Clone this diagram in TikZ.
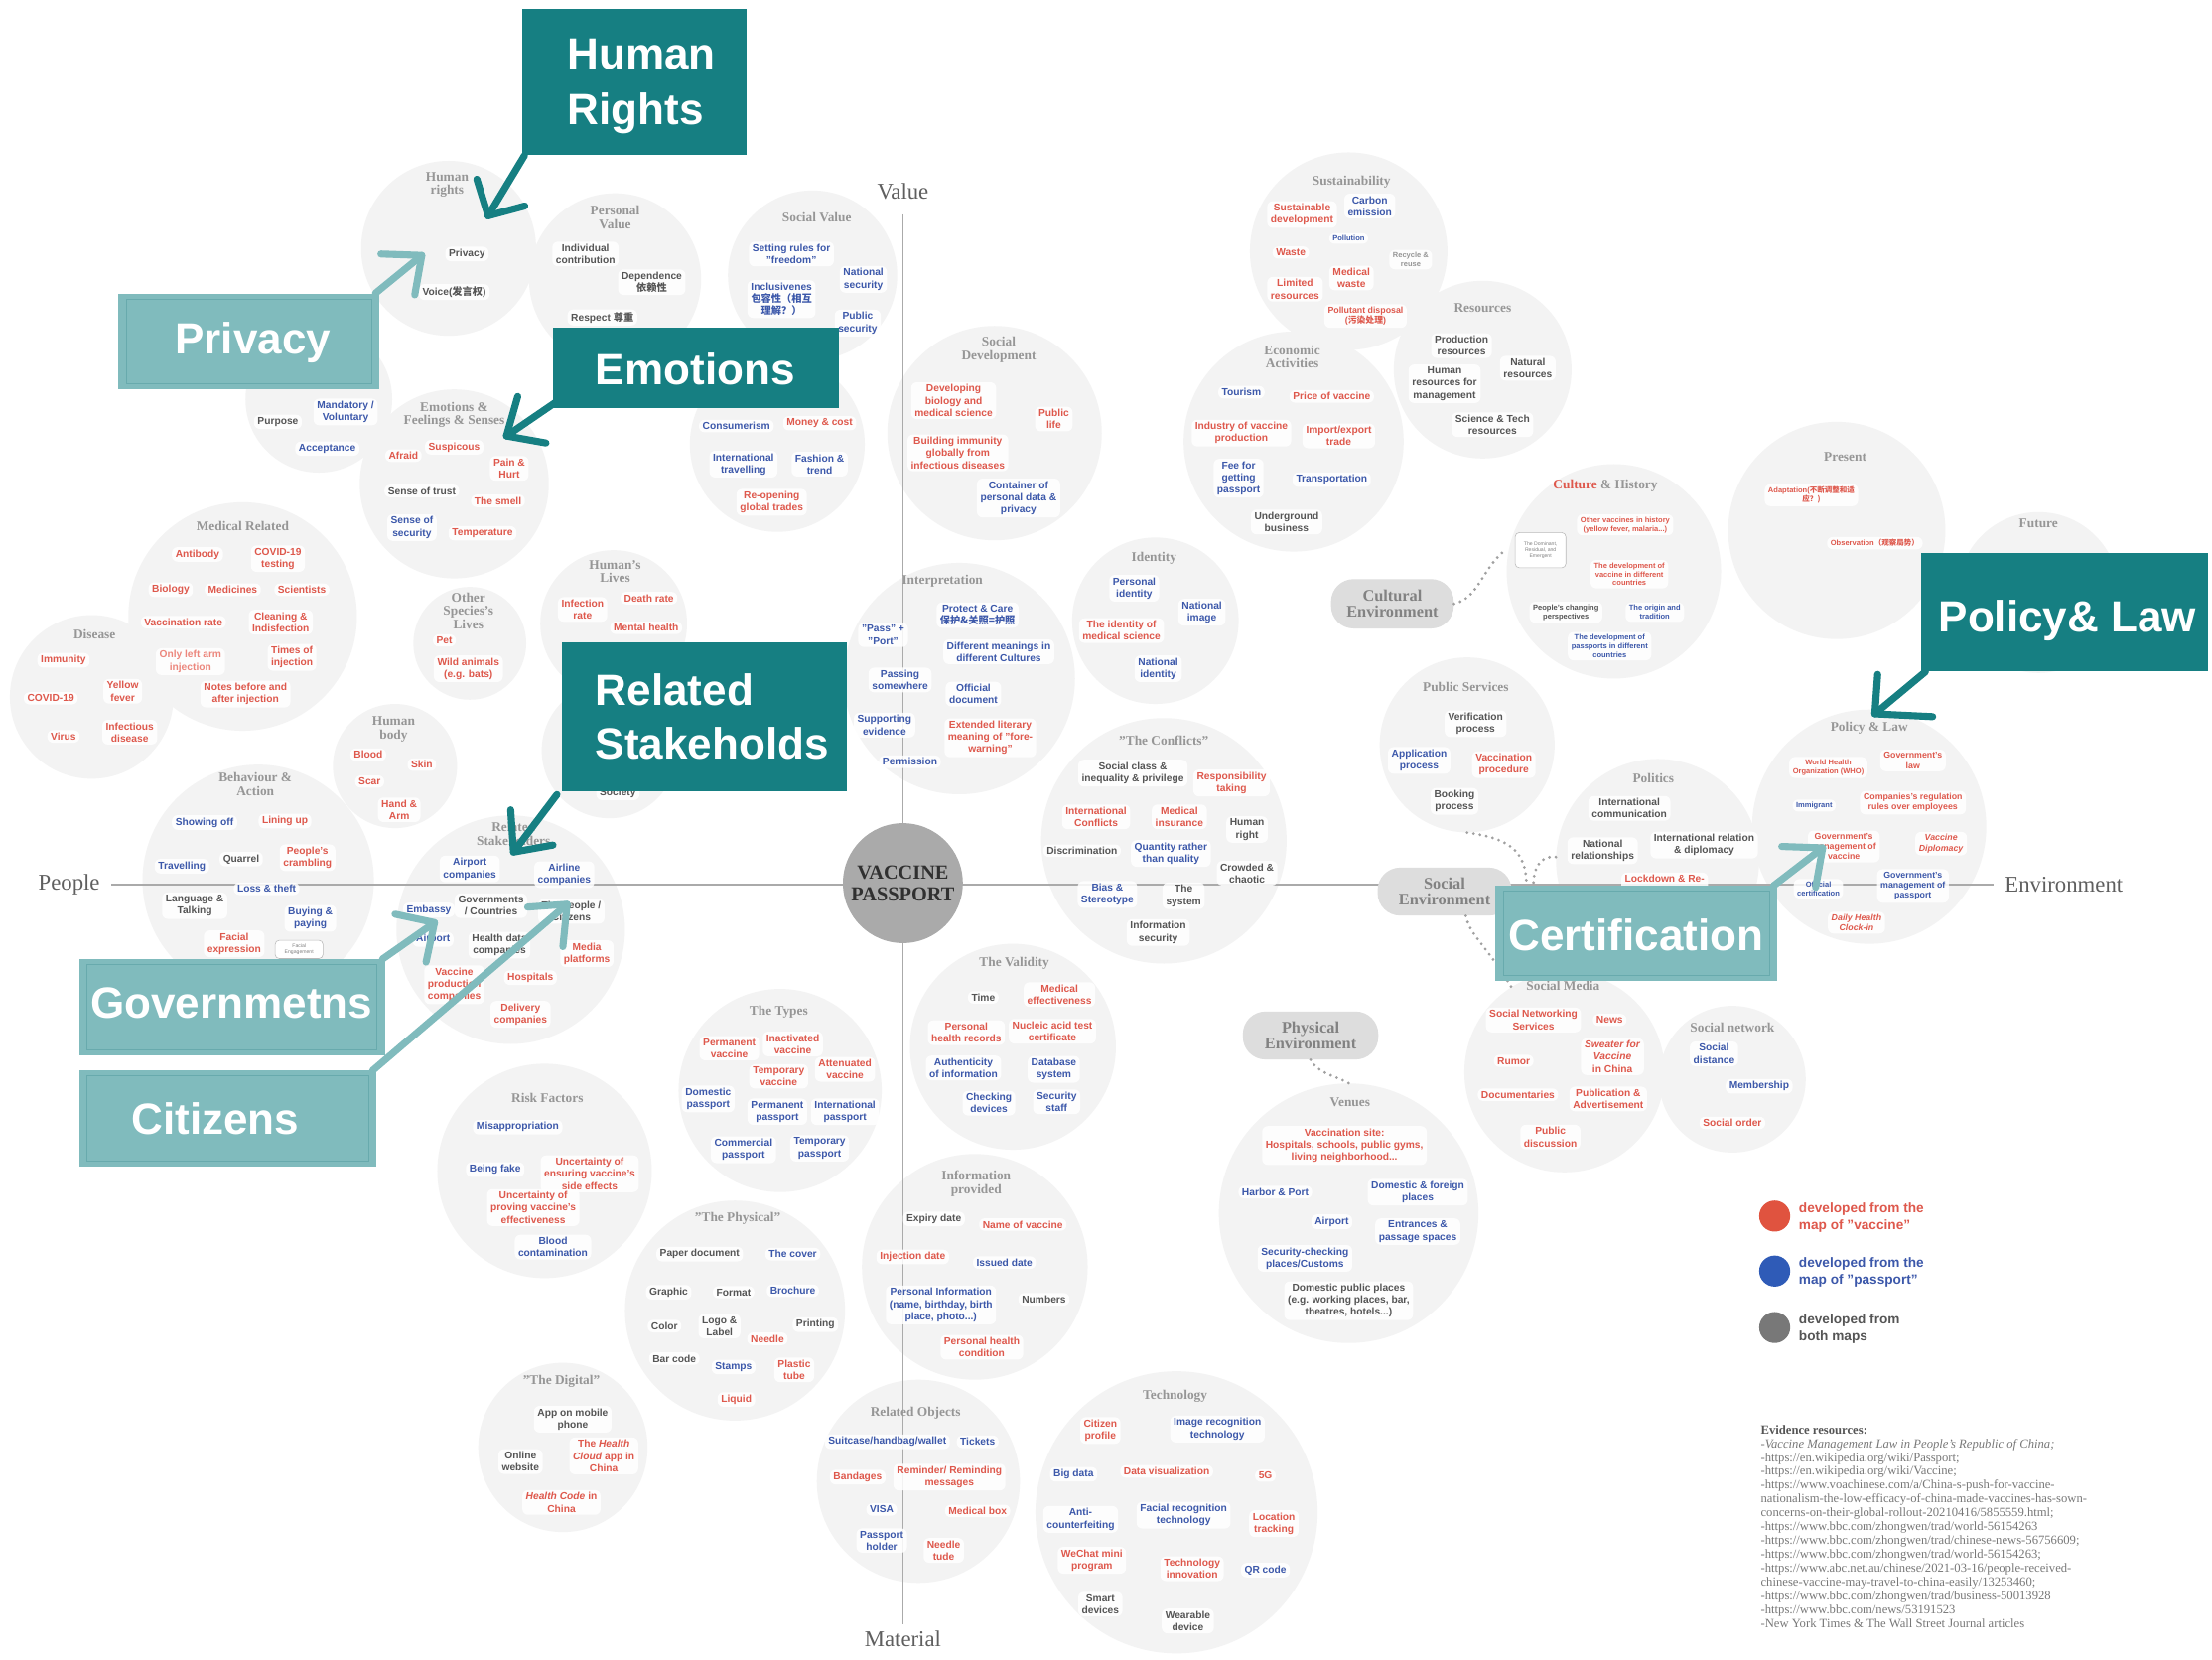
\documentclass[tikz,border=0pt]{standalone}
\usepackage{fontspec}
\setmainfont{Liberation Serif}
\setsansfont{Liberation Sans}
\newfontfamily\cjk{Noto Sans CJK SC}
\usetikzlibrary{calc}
\definecolor{cr}{RGB}{222,88,76}
\definecolor{crl}{RGB}{236,135,125}
\definecolor{cb}{RGB}{60,88,170}
\definecolor{cg}{RGB}{85,85,85}
\definecolor{cgl}{RGB}{150,150,150}
\definecolor{circ}{RGB}{243,243,243}
\definecolor{ttlc}{RGB}{150,150,150}
\definecolor{pillc}{RGB}{221,221,221}
\definecolor{pilltx}{RGB}{130,130,130}
\definecolor{dotc}{RGB}{160,160,160}
\definecolor{axc}{RGB}{170,170,170}
\definecolor{axt}{RGB}{95,95,95}
\definecolor{tealD}{RGB}{22,127,130}
\definecolor{tealL}{RGB}{128,187,189}
\definecolor{tealB}{RGB}{104,170,173}
\definecolor{cenf}{RGB}{170,170,170}
\definecolor{lgr}{RGB}{224,83,63}
\definecolor{lgb}{RGB}{47,91,183}
\definecolor{lgg}{RGB}{120,120,120}
\definecolor{evt}{RGB}{120,120,120}
\newcommand\ItF{\sffamily\bfseries\fontsize{7.2}{8.6}\selectfont}
\newcommand\SmF{\sffamily\bfseries\fontsize{6.2}{7.3}\selectfont}
\newcommand\XsF{\sffamily\bfseries\fontsize{5.3}{6.3}\selectfont}
\newcommand\TtF{\rmfamily\bfseries\fontsize{9.4}{9.6}\selectfont}
\newcommand\PillF{\rmfamily\bfseries\fontsize{11.5}{11.6}\selectfont}
\newcommand\AxF{\rmfamily\fontsize{16}{18}\selectfont}
\newcommand\CoF{\sffamily\bfseries\fontsize{31}{38}\selectfont}
\newcommand\LgF{\sffamily\bfseries\fontsize{9.6}{12.3}\selectfont}
\newcounter{itc}
\newcounter{ttc}
\newcommand\Itm[5][]{\stepcounter{itc}\edef\itnm{i\arabic{itc}}\node[itm,text=#4,#1] (\itnm) at (#2,#3) {#5};}
\newcommand\Ttl[3]{\stepcounter{ttc}\edef\tnm{t\arabic{ttc}}\node[ttl] (\tnm) at (#1,#2) {#3};}
\newcommand\Bub[4]{\node[bub,minimum size={2*#4}] (#1) at (#2,#3) {};}
\begin{document}
\begin{tikzpicture}[x=1pt,y=-1pt,
 bub/.style={circle,fill=circ,draw=none,inner sep=0pt},
 itm/.style={fill=white,fill opacity=0.85,text opacity=1,rounded corners=4pt,inner xsep=2.5pt,inner ysep=1.8pt,align=center,font=\ItF},
 sm/.style={font=\SmF},
 xs/.style={font=\XsF},
 ttl/.style={align=center,text=ttlc,font=\TtF,inner sep=1pt},
 pill/.style={fill=pillc,rounded corners=16pt,align=center,text=pilltx,font=\PillF,inner sep=0pt},
 dots/.style={draw=dotc,line width=2.2pt,line cap=round,dash pattern=on 0pt off 4.6pt},
 axis/.style={draw=axc,line width=0.8pt},
 axl/.style={text=axt,font=\AxF,inner sep=0pt},
 dbox/.style={fill=tealD,draw=none,inner sep=0pt},
 lbox/.style={fill=tealL,draw=none,inner sep=0pt},
 innerb/.style={draw=tealB,line width=0.6pt},
 ctx/.style={text=white,font=\CoF,inner sep=0pt,anchor=base west},
 darr/.style={draw=tealD,line width=5pt,line cap=round,line join=round},
 larr/.style={draw=tealL,line width=5pt,line cap=round,line join=round},
 tinyb/.style={draw=gray!55,fill=white,rounded corners=3pt,align=center,text=gray,inner sep=1pt},
]
\useasboundingbox (0,0) rectangle (1568,1176);
\fill[white] (0,0) rectangle (1568,1176);

% ---------- circles ----------
\Bub{hr}{318}{176}{62}
\Bub{pv}{436}{198}{61}
\Bub{pu}{226}{283}{52}
\Bub{emo}{322}{343}{67}
\Bub{sv}{576}{195}{60}
\Bub{cons}{551}{315}{62}
\Bub{sd}{705}{307}{76}
\Bub{med}{172}{437}{81}
\Bub{dis}{65}{494}{58}
\Bub{oth}{333}{456}{40}
\Bub{hl}{435}{442}{52}
\Bub{soc}{432}{532}{48}
\Bub{hb}{280}{543}{44}
\Bub{beh}{183}{624}{82}
\Bub{rs}{362}{659}{81}
\Bub{inte}{680}{481}{82}
\Bub{idn}{819}{440}{59}
\Bub{conf}{825}{596}{87}
\Bub{sus}{956}{178}{70}
\Bub{res}{1051}{262}{63}
\Bub{eco}{917}{313}{78}
\Bub{cul}{1144}{405}{76}
\Bub{pres}{1302}{376}{77}
\Bub{fut}{1445}{420}{57}
\Bub{ps}{1040}{528}{62}
\Bub{pol}{1175}{610}{72}
\Bub{pl}{1325}{586}{83}
\Bub{sm}{1109}{760}{71}
\Bub{sn}{1228}{765}{52}
\Bub{ven}{956}{860}{92}
\Bub{val}{718}{742}{73}
\Bub{typ}{553}{773}{72}
\Bub{risk}{386}{830}{76}
\Bub{phy}{521}{929}{78}
\Bub{dig}{399}{1026}{60}
\Bub{info}{691}{898}{80}
\Bub{robj}{651}{1050}{72}
\Bub{tech}{834}{1072}{100}

% ---------- axes ----------
\node[axl] (aV) at (640,136) {Value};
\node[axl] (aM) at (640,1162) {Material};
\node[axl] (aP) at (49,627) {People};
\node[axl] (aE) at (1463,627) {Environment};
\draw[axis] (aV.south) ++(0,10) -- ([yshift=5pt]aM.north);
\draw[axis] ([xshift=8pt]aP.east) -- ([xshift=-8pt]aE.west);

% ---------- Human rights ----------
\Ttl{317}{131}{Human\\rights}
\Itm{331}{180}{cg}{Privacy}
\Itm{322}{207}{cg}{Voice({\cjk 发言权})}
% Personal value
\Ttl{436}{154}{Personal\\Value}
\Itm{415}{180}{cg}{Individual\\contribution}
\Itm{462}{200}{cg}{Dependence\\{\cjk 依赖性}}
\Itm{427}{225}{cg}{Respect {\cjk 尊重}}
% purpose
\Itm{197}{299}{cg}{Purpose}
\Itm{245}{292}{cb}{Mandatory /\\Voluntary}
\Itm{232}{318}{cb}{Acceptance}
% emotions
\Ttl{322}{294}{Emotions \&\\Feelings \& Senses}
\Itm{286}{323}{cr}{Afraid}
\Itm{322}{317}{cr}{Suspicous}
\Itm{361}{332}{cr}{Pain \&\\Hurt}
\Itm{299}{348}{cg}{Sense of trust}
\Itm{353}{355}{cr}{The smell}
\Itm{292}{374}{cb}{Sense of\\security}
\Itm{342}{378}{cr}{Temperature}
% social value
\Ttl{579}{154}{Social Value}
\Itm{561}{180}{cb}{Setting rules for\\"freedom"}
\Itm{612}{198}{cb}{National\\security}
\Itm{554}{212}{cb}{Inclusivenes\\{\cjk 包容性（相互}\\{\cjk 理解？）}}
\Itm{608}{229}{cb}{Public\\security}
% consumerism
\Itm{522}{302}{cb}{Consumerism}
\Itm{581}{300}{cr}{Money \& cost}
\Itm{527}{329}{cb}{International\\travelling}
\Itm{581}{329}{cb}{Fashion \&\\trend}
\Itm{547}{356}{cr}{Re-opening\\global trades}
% social development
\Ttl{708}{248}{Social\\Development}
\Itm{676}{284}{cr}{Developing\\biology and\\medical science}
\Itm{747}{297}{cr}{Public\\life}
\Itm{679}{321}{cr}{Building immunity\\globally from\\infectious diseases}
\Itm{722}{353}{cb}{Container of\\personal data \&\\privacy}
% medical related
\Ttl{172}{373}{Medical Related}
\Itm{140}{393}{cr}{Antibody}
\Itm{197}{396}{cr}{COVID-19\\testing}
\Itm{121}{418}{cr}{Biology}
\Itm{165}{418}{cr}{Medicines}
\Itm{214}{418}{cr}{Scientists}
\Itm{130}{441}{cr}{Vaccination rate}
\Itm{199}{441}{cr}{Cleaning \&\\Indisfection}
\Itm{135}{469}{crl}{Only left arm\\injection}
\Itm{207}{466}{cr}{Times of\\injection}
\Itm{174}{492}{cr}{Notes before and\\after injection}
% disease
\Ttl{67}{450}{Disease}
\Itm{45}{468}{cr}{Immunity}
\Itm{36}{495}{cr}{COVID-19}
\Itm{87}{490}{cr}{Yellow\\fever}
\Itm{45}{522}{cr}{Virus}
\Itm{92}{519}{cr}{Infectious\\disease}
% other species
\Ttl{332}{433}{Other\\Species's\\Lives}
\Itm{315}{454}{cr}{Pet}
\Itm{332}{474}{cr}{Wild animals\\(e.g. bats)}
% human's lives
\Ttl{436}{405}{Human's\\Lives}
\Itm{413}{432}{cr}{Infection\\rate}
\Itm{460}{424}{cr}{Death rate}
\Itm{458}{445}{cr}{Mental health}
\Itm{438}{562}{cg}{Society}
% human body
\Ttl{279}{517}{Human\\body}
\Itm{261}{535}{cr}{Blood}
\Itm{299}{542}{cr}{Skin}
\Itm{262}{554}{cr}{Scar}
\Itm{283}{574}{cr}{Hand \&\\Arm}
% behaviour
\Ttl{181}{556}{Behaviour \&\\Action}
\Itm{145}{583}{cb}{Showing off}
\Itm{202}{582}{cr}{Lining up}
\Itm{129}{614}{cb}{Travelling}
\Itm{171}{609}{cg}{Quarrel}
\Itm{218}{608}{cr}{People's\\crambling}
\Itm{189}{630}{cb}{Loss \& theft}
\Itm{138}{642}{cg}{Language \&\\Talking}
\Itm{220}{651}{cb}{Buying \&\\paying}
\Itm{166}{669}{cr}{Facial\\expression}
\node[tinyb,minimum width=34pt,minimum height=13pt,font=\sffamily\fontsize{3.6}{4.2}\selectfont] (fe) at (212,673) {Facial\\Engagement};
% related stakeholders
\Ttl{364}{591}{Related\\Stakeholders}
\Itm{333}{616}{cb}{Airport\\companies}
\Itm{400}{620}{cb}{Airline\\companies}
\Itm{304}{645}{cb}{Embassy}
\Itm{348}{642}{cg}{Governments\\/ Countries}
\Itm{405}{646}{cg}{The people /\\Citizens}
\Itm{307}{666}{cb}{Airport}
\Itm{354}{670}{cg}{Health data\\companies}
\Itm{416}{676}{cr}{Media\\platforms}
\Itm{322}{698}{cr}{Vaccine\\production\\companies}
\Itm{376}{693}{cr}{Hospitals}
\Itm{369}{719}{cr}{Delivery\\companies}
% interpretation
\Ttl{668}{412}{Interpretation}
\Itm{626}{450}{cb}{"Pass" +\\"Port"}
\Itm{693}{436}{cb}{Protect \& Care\\{\cjk 保护\&关照=护照}}
\Itm{708}{462}{cb}{Different meanings in\\different Cultures}
\Itm{638}{482}{cb}{Passing\\somewhere}
\Itm{690}{492}{cb}{Official\\document}
\Itm{627}{514}{cb}{Supporting\\evidence}
\Itm{702}{523}{cr}{Extended literary\\meaning of "fore-\\warning"}
\Itm{645}{540}{cb}{Permission}
% identity
\Ttl{818}{396}{Identity}
\Itm{804}{417}{cb}{Personal\\identity}
\Itm{852}{434}{cb}{National\\image}
\Itm{795}{447}{cr}{The identity of\\medical science}
\Itm{821}{474}{cb}{National\\identity}
% conflicts
\Ttl{825}{525}{"The Conflicts"}
\Itm{803}{548}{cg}{Social class \&\\inequality \& privilege}
\Itm{873}{555}{cr}{Responsibility\\taking}
\Itm{777}{579}{cr}{International\\Conflicts}
\Itm{836}{579}{cr}{Medical\\insurance}
\Itm{884}{588}{cg}{Human\\right}
\Itm{767}{603}{cg}{Discrimination}
\Itm{830}{605}{cb}{Quantity rather\\than quality}
\Itm{884}{619}{cg}{Crowded \&\\chaotic}
\Itm{785}{634}{cb}{Bias \&\\Stereotype}
\Itm{839}{635}{cg}{The\\system}
\Itm{821}{661}{cg}{Information\\security}
% sustainability
\Ttl{958}{129}{Sustainability}
\Itm{923}{152}{cr}{Sustainable\\development}
\Itm{971}{146}{cb}{Carbon\\emission}
\Itm[xs]{956}{169}{cb}{Pollution}
\Itm{915}{179}{cr}{Waste}
\Itm[xs]{1000}{184}{cgl}{Recycle \&\\reuse}
\Itm{958}{197}{cr}{Medical\\waste}
\Itm{918}{205}{cr}{Limited\\resources}
\Itm[sm]{968}{224}{cr}{Pollutant disposal\\({\cjk 污染处理})}
% resources
\Ttl{1051}{218}{Resources}
\Itm{1036}{245}{cg}{Production\\resources}
\Itm{1083}{261}{cg}{Natural\\resources}
\Itm{1024}{272}{cg}{Human\\resources for\\management}
\Itm{1058}{301}{cg}{Science \& Tech\\resources}
% economic
\Ttl{916}{253}{Economic\\Activities}
\Itm{880}{278}{cb}{Tourism}
\Itm{944}{281}{cr}{Price of vaccine}
\Itm{880}{307}{cr}{Industry of vaccine\\production}
\Itm{949}{309}{cr}{Import/export\\trade}
\Itm{878}{339}{cb}{Fee for\\getting\\passport}
\Itm{944}{340}{cb}{Transportation}
\Itm{912}{370}{cg}{Underground\\business}
% culture & history
\Ttl{1138}{344}{\textcolor{cr}{Culture} \& History}
\Itm[xs]{1152}{372}{cr}{Other vaccines in history\\(yellow fever, malaria...)}
\node[tinyb,minimum width=36pt,minimum height=25pt,font=\sffamily\fontsize{3.6}{4.4}\selectfont] (dom) at (1092,390) {The Dominant,\\Residual, and\\Emergent};
\Itm[xs]{1155}{407}{cr}{The development of\\vaccine in different\\countries}
\Itm[xs]{1110}{434}{cg}{People's changing\\perspectives}
\Itm[xs]{1173}{434}{cb}{The origin and\\tradition}
\Itm[xs]{1141}{458}{cb}{The development of\\passports in different\\countries}
% present / future
\Ttl{1308}{324}{Present}
\Itm[xs]{1284}{351}{cr}{Adaptation({\cjk 不断调整和适}\\{\cjk 应？)}}
\Itm[xs]{1329}{385}{cr}{Observation{\cjk（观察局势）}}
\Ttl{1445}{371}{Future}
% public services
\Ttl{1039}{487}{Public Services}
\Itm{1046}{513}{cg}{Verification\\process}
\Itm{1006}{539}{cb}{Application\\process}
\Itm{1066}{542}{cr}{Vaccination\\procedure}
\Itm{1031}{568}{cg}{Booking\\process}
% politics
\Ttl{1172}{552}{Politics}
\Itm{1155}{573}{cg}{International\\communication}
\Itm{1136}{603}{cg}{National\\relationships}
\Itm{1208}{599}{cg}{International relation\\\& diplomacy}
\Itm{1180}{628}{cr}{Lockdown \& Re-\\opening}
% policy & law
\Ttl{1325}{516}{Policy \& Law}
\Itm[xs]{1296}{544}{cr}{World Health\\Organization (WHO)}
\Itm[sm]{1356}{539}{cr}{Government's\\law}
\Itm[xs]{1286}{571}{cb}{Immigrant}
\Itm[sm]{1356}{569}{cr}{Companies's regulation\\rules over employees}
\Itm[sm]{1307}{600}{cr}{Government's\\management of\\vaccine}
\Itm[sm]{1376}{598}{cr}{\textit{Vaccine}\\\textit{Diplomacy}}
\Itm[xs]{1289}{630}{cb}{Official\\certification}
\Itm[sm]{1356}{628}{cb}{Government's\\management of\\passport}
\Itm[sm]{1316}{654}{cr}{\textit{Daily Health}\\\textit{Clock-in}}
% social media
\Ttl{1108}{699}{Social Media}
\Itm{1087}{723}{cr}{Social Networking\\Services}
\Itm{1141}{723}{cr}{News}
\Itm{1143}{749}{cr}{\textit{Sweater for}\\\textit{Vaccine}\\in China}
\Itm{1073}{752}{cr}{Rumor}
\Itm{1076}{776}{cr}{Documentaries}
\Itm{1140}{779}{cr}{Publication \&\\Advertisement}
\Itm{1099}{806}{cr}{Public\\discussion}
% social network
\Ttl{1228}{728}{Social network}
\Itm{1215}{747}{cb}{Social\\distance}
\Itm{1247}{770}{cb}{Membership}
\Itm{1228}{796}{cr}{Social order}
% venues
\Ttl{957}{781}{Venues}
\Itm{953}{812}{cr}{Vaccination site:\\Hospitals, schools, public gyms,\\living neighborhood...}
\Itm{904}{845}{cb}{Harbor \& Port}
\Itm{1005}{845}{cb}{Domestic \& foreign\\places}
\Itm{944}{866}{cb}{Airport}
\Itm{1005}{873}{cb}{Entrances \&\\passage spaces}
\Itm{925}{892}{cb}{Security-checking\\places/Customs}
\Itm{956}{922}{cg}{Domestic public places\\(e.g. working places, bar,\\theatres, hotels...)}
% validity
\Ttl{719}{683}{The Validity}
\Itm{697}{707}{cg}{Time}
\Itm{751}{705}{cr}{Medical\\effectiveness}
\Itm{685}{732}{cr}{Personal\\health records}
\Itm{746}{731}{cr}{Nucleic acid test\\certificate}
\Itm{683}{757}{cb}{Authenticity\\of information}
\Itm{747}{758}{cb}{Database\\system}
\Itm{701}{782}{cb}{Checking\\devices}
\Itm{749}{781}{cb}{Security\\staff}
% types
\Ttl{552}{717}{The Types}
\Itm{517}{743}{cr}{Permanent\\vaccine}
\Itm{562}{740}{cr}{Inactivated\\vaccine}
\Itm{599}{758}{cr}{Attenuated\\vaccine}
\Itm{552}{763}{cr}{Temporary\\vaccine}
\Itm{502}{779}{cb}{Domestic\\passport}
\Itm{551}{788}{cb}{Permanent\\passport}
\Itm{599}{788}{cb}{International\\passport}
\Itm{527}{815}{cb}{Commercial\\passport}
\Itm{581}{814}{cb}{Temporary\\passport}
% risk factors
\Ttl{388}{778}{Risk Factors}
\Itm{367}{799}{cb}{Misappropriation}
\Itm{351}{829}{cb}{Being fake}
\Itm{418}{832}{cr}{Uncertainty of\\ensuring vaccine's\\side effects}
\Itm{378}{856}{cr}{Uncertainty of\\proving vaccine's\\effectiveness}
\Itm{392}{884}{cb}{Blood\\contamination}
% the physical
\Ttl{523}{864}{"The Physical"}
\Itm{496}{889}{cg}{Paper document}
\Itm{562}{889}{cb}{The cover}
\Itm{474}{916}{cg}{Graphic}
\Itm{520}{916}{cg}{Format}
\Itm{562}{915}{cb}{Brochure}
\Itm{471}{940}{cg}{Color}
\Itm{510}{940}{cg}{Logo \&\\Label}
\Itm{578}{939}{cg}{Printing}
\Itm{544}{949}{cr}{Needle}
\Itm{478}{963}{cg}{Bar code}
\Itm{520}{969}{cb}{Stamps}
\Itm{563}{971}{cr}{Plastic\\tube}
\Itm{522}{992}{cr}{Liquid}
% the digital
\Ttl{398}{979}{"The Digital"}
\Itm{406}{1006}{cg}{App on mobile\\phone}
\Itm{428}{1032}{cr}{The \textit{Health}\\\textit{Cloud} app in\\China}
\Itm{369}{1036}{cg}{Online\\website}
\Itm{398}{1065}{cr}{\textit{Health Code} in\\China}
% information provided
\Ttl{692}{839}{Information\\provided}
\Itm{662}{864}{cg}{Expiry date}
\Itm{725}{868}{cr}{Name of vaccine}
\Itm{647}{891}{cr}{Injection date}
\Itm{712}{895}{cb}{Issued date}
\Itm{667}{925}{cb}{Personal Information\\(name, birthday, birth\\place, photo...)}
\Itm{740}{921}{cg}{Numbers}
\Itm{696}{955}{cr}{Personal health\\condition}
% related objects
\Ttl{649}{1002}{Related Objects}
\Itm{629}{1022}{cb}{Suitcase/handbag/wallet}
\Itm{693}{1022}{cb}{Tickets}
\Itm{608}{1047}{cr}{Bandages}
\Itm{673}{1047}{cr}{Reminder/ Reminding\\messages}
\Itm{625}{1070}{cb}{VISA}
\Itm{693}{1071}{cr}{Medical box}
\Itm{625}{1092}{cb}{Passport\\holder}
\Itm{669}{1099}{cr}{Needle\\tude}
% technology
\Ttl{833}{990}{Technology}
\Itm{780}{1014}{cr}{Citizen\\profile}
\Itm{863}{1013}{cb}{Image recognition\\technology}
\Itm{761}{1045}{cb}{Big data}
\Itm{827}{1043}{cr}{Data visualization}
\Itm{897}{1046}{cr}{5G}
\Itm{766}{1077}{cb}{Anti-\\counterfeiting}
\Itm{839}{1074}{cb}{Facial recognition\\technology}
\Itm{903}{1080}{cr}{Location\\tracking}
\Itm{774}{1106}{cr}{WeChat mini\\program}
\Itm{845}{1112}{cr}{Technology\\innovation}
\Itm{897}{1113}{cb}{QR code}
\Itm{780}{1137}{cg}{Smart\\devices}
\Itm{842}{1149}{cg}{Wearable\\device}

% ---------- environment pills and dotted links ----------
\node[pill,minimum width=87pt,minimum height=35pt] (cenv) at (987,428) {Cultural\\Environment};
\node[pill,minimum width=95pt,minimum height=34pt] (senv) at (1024,632) {Social\\Environment};
\node[pill,minimum width=96pt,minimum height=34pt] (penv) at (929,734) {Physical\\Environment};
\coordinate (j1) at (1082,627);
\coordinate (j2) at (1087,627);
\draw[dots] (cenv.east) .. controls (1048,424) and (1050,404) .. ([xshift=-7pt]dom.west);
\draw[dots] (ps.south) .. controls (1068,594) and (1082,602) .. (j1);
\draw[dots] (pol.178) .. controls (1093,606) and (1087,614) .. (j2);
\draw[dots] ([xshift=15pt]senv.south) .. controls (1042,663) and (1052,668) .. (sm.122);
\draw[dots] (penv.south) .. controls (934,761) and (948,763) .. (ven.north);

% ---------- centre ----------
\node[circle,fill=cenf,minimum size=85pt,inner sep=0pt,align=center,text={rgb,255:red,48;green,48;blue,48},font=\rmfamily\bfseries\fontsize{14.3}{15.6}\selectfont] (vp) at (640,626) {VACCINE\\PASSPORT};

% ---------- callouts ----------
\node[dbox,minimum width=159pt,minimum height=104pt] (hrbox) at (449.5,58) {};
\node[ctx] (hrT1) at (402,49) {Human};
\node[ctx] (hrT2) at (402,88) {Rights};
\node[dbox,minimum width=203pt,minimum height=57pt] (emobox) at (493.5,260.5) {};
\node[ctx] (emoT) at (422,273) {Emotions};
\node[dbox,minimum width=202pt,minimum height=106pt] (relbox) at (499,508) {};
\node[ctx] (relT1) at (422,500) {Related};
\node[ctx] (relT2) at (422,538) {Stakeholds};
\node[dbox,minimum width=203pt,minimum height=84pt] (polbox) at (1463.5,434) {};
\node[ctx] (polT) at (1374,448) {Policy\& Law};
\node[lbox,minimum width=185pt,minimum height=68pt] (privbox) at (176.5,242) {};
\draw[innerb] ([shift={(6,4)}]privbox.north west) rectangle ([shift={(-6,-4)}]privbox.south east);
\node[ctx] (privT) at (124,251) {Privacy};
\node[lbox,minimum width=217pt,minimum height=68pt] (govbox) at (164.5,714) {};
\draw[innerb] ([shift={(6,4)}]govbox.north west) rectangle ([shift={(-6,-4)}]govbox.south east);
\node[ctx] (govT) at (64,722) {Governmetns};
\node[lbox,minimum width=211pt,minimum height=68pt] (citbox) at (161.5,793) {};
\draw[innerb] ([shift={(6,4)}]citbox.north west) rectangle ([shift={(-6,-4)}]citbox.south east);
\node[ctx] (citT) at (93,804) {Citizens};
\node[lbox,minimum width=200pt,minimum height=67pt] (certbox) at (1160,661.5) {};
\draw[innerb] ([shift={(6,4)}]certbox.north west) rectangle ([shift={(-6,-4)}]certbox.south east);
\node[ctx] (certT) at (1069,674) {Certification};

% ---------- arrows ----------
\coordinate (hrTip) at (346,153); \coordinate (hrB1) at (338,127); \coordinate (hrB2) at (372,146);
\draw[darr] ([xshift=2pt]hrbox.south west) -- (hrTip);
\draw[darr] (hrB1) -- (hrTip) -- (hrB2);
\coordinate (emTip) at (359,309); \coordinate (emB1) at (367,281); \coordinate (emB2) at (387,314);
\draw[darr] ([shift={(2,-4)}]emobox.south west) -- (emTip);
\draw[darr] (emB1) -- (emTip) -- (emB2);
\coordinate (reTip) at (364,604); \coordinate (reB1) at (362,574); \coordinate (reB2) at (392,599);
\draw[darr] ([shift={(-3,2)}]relbox.south west) -- (reTip);
\draw[darr] (reB1) -- (reTip) -- (reB2);
\coordinate (plTip) at (1329,506); \coordinate (plB1) at (1331,478); \coordinate (plB2) at (1370,508);
\draw[darr] ([xshift=3pt]polbox.south west) -- (plTip);
\draw[darr] (plB1) -- (plTip) -- (plB2);
\coordinate (prTip) at (299,181); \coordinate (prB1) at (270,180); \coordinate (prB2) at (294,209);
\draw[larr] ([xshift=-3pt]privbox.north east) -- (prTip);
\draw[larr] (prB1) -- (prTip) -- (prB2);
\coordinate (goTip) at (308,654); \coordinate (goB1) at (280,648); \coordinate (goB2) at (302,682);
\draw[larr] ([xshift=-2pt]govbox.north east) -- (goTip);
\draw[larr] (goB1) -- (goTip) -- (goB2);
\coordinate (ciTip) at (402,641); \coordinate (ciB1) at (374,643); \coordinate (ciB2) at (399,671);
\draw[larr] ([xshift=-3pt]citbox.north east) -- (ciTip);
\draw[larr] (ciB1) -- (ciTip) -- (ciB2);
\coordinate (ceTip) at (1292,601); \coordinate (ceB1) at (1263,600); \coordinate (ceB2) at (1287,629);
\draw[larr] ([xshift=-3pt]certbox.north east) -- (ceTip);
\draw[larr] (ceB1) -- (ceTip) -- (ceB2);

% ---------- legend ----------
\node[circle,fill=lgr,minimum size=22pt,inner sep=0pt] (lg1) at (1258,862) {};
\node[circle,fill=lgb,minimum size=22pt,inner sep=0pt] (lg2) at (1258,901) {};
\node[circle,fill=lgg,minimum size=22pt,inner sep=0pt] (lg3) at (1258,941) {};
\node[anchor=west,align=left,inner sep=0pt,font=\LgF,text=cr] (lt1) at (1275,863) {developed from the\\map of "vaccine"};
\node[anchor=west,align=left,inner sep=0pt,font=\LgF,text=cb] (lt2) at (1275,902) {developed from the\\map of "passport"};
\node[anchor=west,align=left,inner sep=0pt,font=\LgF,text=cg] (lt3) at (1275,942) {developed from\\both maps};

% ---------- evidence ----------
\node[anchor=north west,align=left,inner sep=0pt,text=evt,font=\rmfamily\fontsize{8.9}{9.8}\selectfont] (ev) at (1248,1010) {%
\textcolor{cg}{\textbf{Evidence resources:}}\\
-\textit{Vaccine Management Law in People's Republic of China;}\\
-https://en.wikipedia.org/wiki/Passport;\\
-https://en.wikipedia.org/wiki/Vaccine;\\
-https://www.voachinese.com/a/China-s-push-for-vaccine-\\
nationalism-the-low-efficacy-of-china-made-vaccines-has-sown-\\
concerns-on-their-global-rollout-20210416/5855559.html;\\
-https://www.bbc.com/zhongwen/trad/world-56154263\\
-https://www.bbc.com/zhongwen/trad/chinese-news-56756609;\\
-https://www.bbc.com/zhongwen/trad/world-56154263;\\
-https://www.abc.net.au/chinese/2021-03-16/people-received-\\
chinese-vaccine-may-travel-to-china-easily/13253460;\\
-https://www.bbc.com/zhongwen/trad/business-50013928\\
-https://www.bbc.com/news/53191523\\
-New York Times \& The Wall Street Journal articles};
\end{tikzpicture}
\end{document}
